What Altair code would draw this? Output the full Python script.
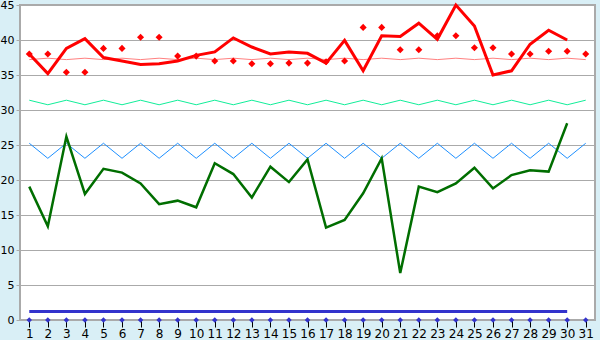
import altair as alt
import pandas as pd

days = list(range(1, 32))
days30 = list(range(1, 31))

red_line = [38.0, 35.2, 38.8, 40.2, 37.5, 37.0, 36.5, 36.6, 37.0, 37.8,
            38.3, 40.3, 39.0, 38.0, 38.3, 38.1, 36.7, 39.95, 35.6, 40.6,
            40.5, 42.4, 40.1, 45.0, 42.0, 35.0, 35.6, 39.4, 41.4, 40.0]
red_points = [38.0, 38.0, 35.4, 35.4, 38.8, 38.8, 40.4, 40.4, 37.7, 37.7,
              37.0, 37.0, 36.6, 36.6, 36.7, 36.7, 36.9, 37.0, 41.8, 41.8,
              38.6, 38.6, 40.6, 40.6, 38.9, 38.9, 38.0, 38.0, 38.4, 38.4, 38.0]
pink_line = [37.2, 37.4] * 15 + [37.2]
cyan_line = [31.4, 30.75] * 15 + [31.4]
blue_zigzag = [25.25, 23.1] * 15 + [25.25]
green_line = [19.05, 13.4, 26.2, 18.0, 21.6, 21.05, 19.5, 16.55, 17.05, 16.1,
              22.4, 20.85, 17.5, 21.9, 19.7, 22.95, 13.2, 14.3, 18.1, 23.1,
              6.7, 19.05, 18.25, 19.5, 21.75, 18.8, 20.7, 21.4, 21.2, 28.1]
blue_thick = [1.2] * 30
blue_points = [0] * 31
y_ticks = list(range(0, 50, 5))

FONT = "DejaVu Sans"

x_enc = alt.X(
    "day:Q",
    scale=alt.Scale(domain=[0.5, 31.5], nice=False, zero=False),
    axis=alt.Axis(values=days, format="d", title=None, grid=False, domain=False,
                  tickColor="black", tickSize=7, tickWidth=1,
                  labelColor="black", labelFontSize=12, labelFont=FONT,
                  labelPadding=1, labelFlush=False, labelOverlap=False),
)
y_enc = alt.Y(
    "v:Q",
    scale=alt.Scale(domain=[0, 45], nice=False),
    axis=alt.Axis(values=y_ticks, title=None, grid=True, gridColor="#aaaaaa",
                  gridWidth=1, domain=False, tickColor="#aaaaaa", tickSize=4,
                  labelColor="black", labelFontSize=11, labelFont=FONT,
                  labelPadding=2),
)


def frame(xs, ys):
    return pd.DataFrame({"day": xs, "v": ys})


def line(xs, ys, color, width):
    return alt.Chart(frame(xs, ys)).mark_line(color=color, strokeWidth=width).encode(x=x_enc, y=y_enc)


def points(xs, ys, color, size):
    return alt.Chart(frame(xs, ys)).mark_point(
        shape="diamond", filled=True, color=color, size=size, opacity=1
    ).encode(x=x_enc, y=y_enc)


chart = alt.layer(
    line(days, pink_line, "#ff8080", 1),
    line(days, cyan_line, "#11ee99", 1),
    line(days, blue_zigzag, "#1e90ff", 1),
    line(days30, green_line, "#006e00", 2.5),
    line(days30, blue_thick, "#3333cc", 3),
    line(days30, red_line, "#ff0000", 3),
    points(days, red_points, "#ff0000", 50),
    points(days, blue_points, "#3333cc", 30),
).properties(
    width=575,
    height=315,
    autosize=alt.AutoSizeParams(type="none"),
    padding={"left": 20, "top": 5, "right": 5, "bottom": 20},
    background="#d9eff6",
).configure_view(
    fill="white", stroke="#aaaaaa", strokeWidth=2
)

chart.save("out.html", embed_options={"renderer": "svg", "actions": False})
